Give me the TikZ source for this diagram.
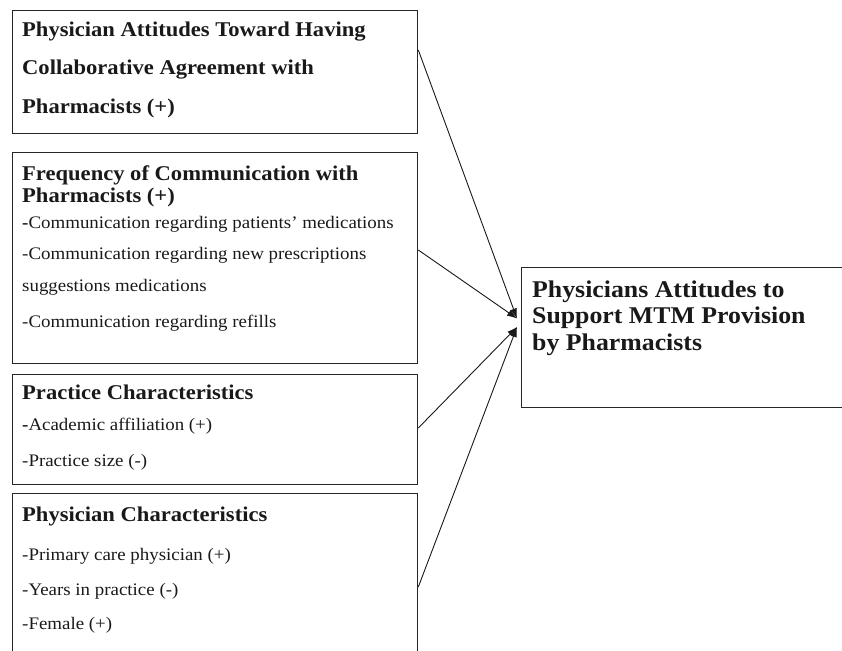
\documentclass[tikz,border=0pt]{standalone}
\usepackage{fontspec}
\setmainfont{Liberation Serif}[FakeStretch=1.075]
\usetikzlibrary{arrows.meta}
\begin{document}
\begin{tikzpicture}[x=1pt,y=-1pt,
  box/.style={draw=black!85, line width=1.3pt, rectangle, anchor=north west, inner sep=0pt},
  ttl/.style={anchor=base west, inner sep=0pt, text=black!90, font=\fontsize{21}{22}\selectfont\bfseries},
  itm/.style={anchor=base west, inner sep=0pt, text=black!90, font=\fontsize{17.6}{20}\selectfont},
  big/.style={anchor=base west, inner sep=0pt, text=black!90, font=\fontsize{24}{26}\selectfont\bfseries},
  arr/.style={-{Latex[length=10pt,width=7pt]}, line width=0.9pt, draw=black!90}]
\useasboundingbox (0,0) rectangle (842,650);
\clip (0,0) rectangle (842,650);

% boxes
\node[box, minimum width=405pt, minimum height=123pt] (b1) at (12,10) {};
\node[box, minimum width=405pt, minimum height=211pt] (b2) at (12,152) {};
\node[box, minimum width=405pt, minimum height=110pt] (b3) at (12,374) {};
\node[box, minimum width=405pt, minimum height=175pt] (b4) at (12,493) {};
\node[box, minimum width=340pt, minimum height=140pt] (r) at (521,267) {};

% box 1
\node[ttl] (t1a) at (22,36.7) {Physician Attitudes Toward Having};
\node[ttl] (t1b) at (22,75) {Collaborative Agreement with};
\node[ttl] (t1c) at (22,113.3) {Pharmacists (+)};

% box 2
\node[ttl] (t2a) at (22,180.7) {Frequency of Communication with};
\node[ttl] (t2b) at (22,202.7) {Pharmacists (+)};
\node[itm] (t2c) at (22,228.5) {\textbf{-}Communication regarding patients’ medications};
\node[itm] (t2d) at (22,259) {-Communication regarding new prescriptions};
\node[itm] (t2e) at (22,291.5) {suggestions medications};
\node[itm] (t2f) at (22,327) {-Communication regarding refills};

% box 3
\node[ttl] (t3a) at (22,399.3) {Practice Characteristics};
\node[itm] (t3b) at (22,430) {\textbf{-}Academic affiliation (+)};
\node[itm] (t3c) at (22,466) {-Practice size (-)};

% box 4
\node[ttl] (t4a) at (22,521.5) {Physician Characteristics};
\node[itm] (t4b) at (22,560) {-Primary care physician (+)};
\node[itm] (t4c) at (22,595) {-Years in practice (-)};
\node[itm] (t4d) at (22,629) {-Female (+)};

% right box
\node[big] (ra) at (532,297) {Physicians Attitudes to};
\node[big] (rb) at (532,323.5) {Support MTM Provision};
\node[big] (rc) at (532,350) {by Pharmacists};

% connector ends
\coordinate (s1) at (b1.east |- 0,50);
\coordinate (s2) at (b2.east |- 0,250);
\coordinate (s3) at (b3.east |- 0,428);
\coordinate (s4) at (b4.east |- 0,587);
\coordinate (tipA) at (517,318.5);
\coordinate (tipB) at (517,327);

\draw[arr] (s1) -- (tipA);
\draw[arr] (s2) -- (tipA);
\draw[arr] (s3) -- (tipB);
\draw[arr] (s4) -- (tipB);
\end{tikzpicture}
\end{document}
